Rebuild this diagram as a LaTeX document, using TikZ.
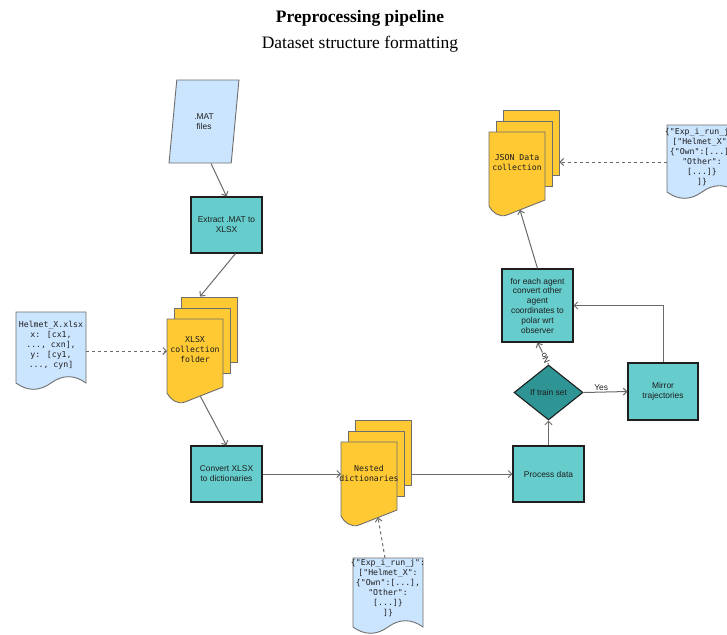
\documentclass[tikz,border=0pt]{standalone}
\usepackage{fontspec}
\setmainfont{Liberation Serif}
\newfontfamily\boxfont{Liberation Sans}
\newfontfamily\codefont{DejaVu Sans Mono}
\usetikzlibrary{arrows.meta,shapes.geometric,calc}

\definecolor{paleblue}{HTML}{CCE5FF}
\definecolor{folderyellow}{HTML}{FFC933}
\definecolor{boxteal}{HTML}{66CCCC}
\definecolor{darkteal}{HTML}{2E9494}
\definecolor{edgegray}{HTML}{6A6A6A}
\definecolor{rimgray}{HTML}{6E6E6E}
\definecolor{inkdark}{HTML}{1E1E1E}

\tikzset{
  stepbox/.style={draw=inkdark, line width=1.1pt, fill=boxteal, minimum width=71pt,
    minimum height=56pt, align=center, font=\boxfont\fontsize{8.4}{9.8}\selectfont,
    text=inkdark, inner sep=2pt},
  sheet/.style={draw=rimgray, line width=0.9pt, fill=folderyellow, minimum width=56pt,
    minimum height=65pt, inner sep=0pt},
  sheetfront/.style={draw=rimgray, line width=0.9pt, fill=folderyellow},
  codetext/.style={font=\codefont\fontsize{8.2}{10}\selectfont, text=inkdark,
    align=center, inner sep=0pt},
  docfill/.style={draw=rimgray, line width=0.9pt, fill=paleblue},
  hull/.style={minimum width=#1, inner sep=0pt, outer sep=0pt},
  flow/.style={draw=edgegray, line width=1pt, -{Straight Barb[length=3.5pt,width=7pt]}},
  feed/.style={flow, dash pattern=on 3pt off 3pt},
  edgelabel/.style={font=\boxfont\fontsize{8.4}{9}\selectfont, text=inkdark, inner sep=1pt},
}

% document sheet with a wavy lower edge: name, cx, cy, width, height, text shift, text
\newcommand\mkdoc[7]{%
  \path[docfill] ({#2-#4/2},{#3-#5/2}) -- ({#2+#4/2},{#3-#5/2})
    -- ({#2+#4/2},{#3+#5/2-7})
    .. controls ({#2+#4/2-#4/6},{#3+#5/2-15.4}) and ({#2+#4/2-#4/3},{#3+#5/2-15.4}) .. ({#2},{#3+#5/2-7})
    .. controls ({#2-#4/2+#4/3},{#3+#5/2+1.4}) and ({#2-#4/2+#4/6},{#3+#5/2+1.4}) .. ({#2-#4/2},{#3+#5/2-7})
    -- cycle;
  \node[hull=#4pt, minimum height=#5pt] (#1) at (#2,#3) {};
  \node[codetext] (#1-text) at (#2,{#3+#6}) {#7};
}

% stack of three folder sheets: name, left, top of the front sheet, text
\newcommand\mkstack[4]{%
  \node[sheet] (#1-c) at ({#2+42},{#3+10.5}) {};
  \node[sheet] (#1-b) at ({#2+35},{#3+21.5}) {};
  \path[sheetfront] (#2,#3) -- ({#2+56},#3) -- ({#2+56},{#3+68}) -- ({#2+18},{#3+83})
    .. controls ({#2+10},{#3+86}) and ({#2+3},{#3+80}) .. (#2,{#3+74}) -- cycle;
  \coordinate (#1-r) at ({#2+56},{#3+68});
  \coordinate (#1-l) at ({#2+18},{#3+83});
  \node[hull=56pt, minimum height=84pt] (#1) at ({#2+28},{#3+42}) {};
  \node[codetext] (#1-text) at ({#2+28},{#3+31}) {#4};
}

\begin{document}
\begin{tikzpicture}[x=1pt,y=-1pt]
  \useasboundingbox (0,0) rectangle (727,634);
  \fill[white] (0,0) rectangle (727,634);

  % heading
  \node[font=\fontsize{17.5}{19}\selectfont\bfseries] (title) at (360,18) {Preprocessing pipeline};
  \node[font=\fontsize{17.5}{19}\selectfont] (subtitle) at (360,44) {Dataset structure formatting};

  % input files
  \node[trapezium, trapezium left angle=80, trapezium right angle=100, trapezium stretches=true,
    minimum width=70pt, minimum height=83pt, inner sep=0pt, draw=rimgray, line width=0.9pt,
    fill=paleblue, align=center, font=\boxfont\fontsize{8.4}{9.8}\selectfont, text=inkdark]
    (mat) at (204,121.5) {.MAT\\files};

  % processing steps
  \node[stepbox] (extract) at (226.5,225) {Extract .MAT to\\XLSX};
  \node[stepbox] (convert) at (226.5,474) {Convert XLSX\\to dictionaries};
  \node[stepbox] (process) at (548.5,474) {Process data};
  \node[stepbox, minimum width=70pt, minimum height=57pt] (mirror) at (663,391.5) {Mirror\\trajectories};
  \node[stepbox, minimum height=73pt] (foreach) at (537.5,305.5)
    {for each agent\\convert other\\agent\\coordinates to\\polar wrt\\observer};
  \node[diamond, draw=inkdark, line width=1.1pt, fill=darkteal, minimum width=69pt,
    minimum height=55pt, aspect=1.25, inner sep=0pt,
    font=\boxfont\fontsize{8.4}{9}\selectfont, text=inkdark] (cond) at (548.5,392.5) {If train set};

  % file collections
  \mkstack{xlsx}{167}{319}{XLSX\\collection\\folder}
  \mkstack{nested}{341}{442}{Nested\\dictionaries}
  \mkstack{json}{489}{132}{JSON Data\\collection}

  % data layout notes
  \mkdoc{helmet}{51}{351}{70}{78}{-6}{Helmet\_X.xlsx\\x: [cx1,\\..., cxn],\\y: [cy1,\\..., cyn]}
  \mkdoc{exps}{388}{596}{70}{76}{-8}{\{"Exp\_i\_run\_j":\\{}["Helmet\_X":\\\{"Own":[...],\\"Other":\\{}[...]\}\\{}]\}}
  \mkdoc{expi}{702}{162}{70}{74}{-5}{\{"Exp\_i\_run\_j":\\{}["Helmet\_X":\\\{"Own":[...],\\"Other":\\{}[...]\}\\{}]\}}

  % connectors
  \draw[flow] ([xshift=7pt]mat.south) -- (extract.north);
  \draw[flow] ([xshift=9pt]extract.south) -- ([xshift=-9pt]xlsx-c.north);
  \draw[feed] (helmet.east) -- (helmet.east -| xlsx.west);
  \draw[flow] ($(xlsx-r)!0.6!(xlsx-l)$) -- (convert.north);
  \draw[flow] (convert.east) -- (convert.east -| nested.west);
  \draw[flow] (process.west -| nested-c.east) -- (process.west);
  \draw[feed] ([xshift=-3pt]exps.north) -- ($(nested-r)!0.5!(nested-l)$);
  \draw[flow] (process.north) -- (cond.south);
  \draw[flow] (cond.east) -- node[edgelabel, above, pos=0.4] {Yes} (mirror.west);
  \draw[flow] (mirror.north) |- (foreach.east);
  \draw[flow] (cond.north) -- node[edgelabel, fill=white, inner sep=0.5pt, pos=0.3, rotate=116] {No} (foreach.south);
  \draw[flow] (foreach.north) -- ($(json-r)!0.66!(json-l)$);
  \draw[feed] (expi.west) -- (expi.west -| json-c.east);
\end{tikzpicture}
\end{document}
